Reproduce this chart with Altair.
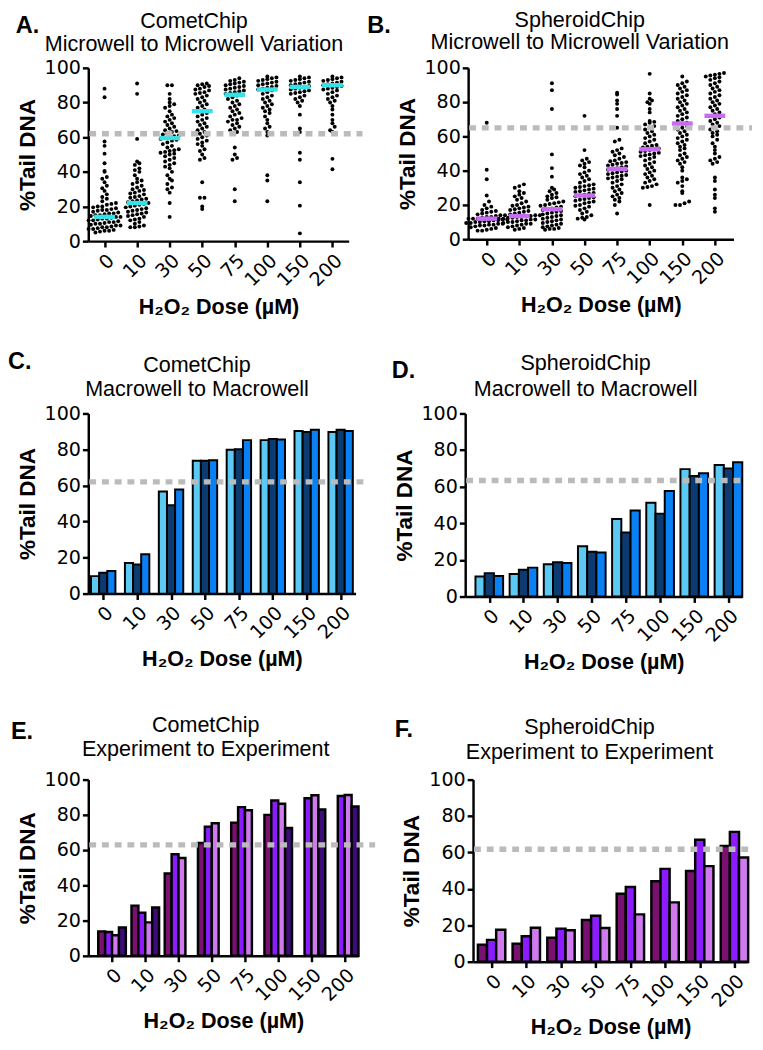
import altair as alt
import pandas as pd

FONT = "Liberation Sans"
TICKFONT = "DejaVu Sans"
doses = ["0", "10", "30", "50", "75", "100", "150", "200"]

# ---------- Panel A: CometChip microwell values (%Tail DNA) ----------
a_0 = [88, 83, 57.5, 55, 50.5, 45, 40.5, 40, 37, 36, 34, 32, 30.5, 29, 27, 25.5, 24.5, 23, 22, 21.5,
       21, 20, 20, 19.5, 19, 18.5, 18, 18, 17.5, 17, 16.5, 16, 16, 15.5, 15, 15, 14.5, 14, 14, 13.5,
       13, 13, 12.5, 12, 12, 11.5, 11, 11, 10.5, 10, 10, 9.5, 9, 9, 8.5, 8, 8, 7.5, 7, 7, 6.5, 6, 6, 5.5, 5]
a_10 = [91, 85, 59, 46, 45, 44, 42, 41, 40, 38, 36, 35, 34, 33, 32, 31, 30, 29.5, 29, 28, 27.5, 27,
        26, 25.5, 25, 24.5, 24, 23.5, 23, 22.5, 22, 21.5, 21, 20.5, 20, 19.5, 19, 18.5, 18, 17.5, 17,
        16.5, 16, 15.5, 15, 14.5, 14, 13, 12.5, 12, 11, 10, 9, 8.5, 8, 8]
a_30 = [90, 90, 85, 82, 80, 79, 78, 77, 75, 73, 72, 71, 70, 69, 68, 67, 66, 65, 64, 63.5, 63, 62,
        61.5, 61, 60.5, 60, 59.5, 59, 58.5, 58, 57, 56, 55, 54, 53, 52.5, 52, 51.5, 51, 50.5, 50, 49,
        48, 47, 46, 45, 44, 43, 42, 40, 38, 36, 35, 33, 31, 30, 28, 22, 14]
a_50 = [91, 90.5, 90, 89.5, 89, 88, 87.5, 87, 86, 85.5, 85, 84, 83, 82, 81, 80, 79, 78, 77, 76, 75,
        74, 73, 72, 71, 70, 69, 68, 67, 66, 65, 64, 63, 62, 61, 60, 59, 58, 57, 56, 55, 53, 52, 50,
        48, 47, 34, 25, 25, 20, 18.5]
a_75 = [94, 93, 92.5, 92, 91.5, 91, 90.5, 90, 89.5, 89, 88.5, 88, 87.5, 87, 86.5, 86, 85.5, 85,
        84.5, 84, 83, 82, 81, 80, 79, 78, 77, 76, 75, 74, 73, 72, 71, 70, 70, 69, 68, 67, 66, 65, 64,
        63, 62, 54, 50, 48, 47, 30, 23]
a_100 = [95, 94.5, 94, 93.5, 93, 92.5, 92, 91.5, 91, 90.5, 90, 89.5, 89, 88.5, 88, 87.5, 87, 86, 85,
         84, 83, 82, 81, 80, 79, 78, 77, 76, 75, 74, 72, 70, 68, 66, 65, 63, 61, 38, 35, 23]
a_150 = [95, 94.5, 94, 93.5, 93, 92.5, 92, 91.5, 91, 90.5, 90, 89.5, 89, 88.5, 88, 87.5, 87, 86.5,
         86, 85.5, 85, 84, 83, 82, 81, 80, 78, 73, 65, 63, 51, 47, 34, 20.5, 4.5]
a_200 = [95, 94.5, 94, 93.5, 93, 92.5, 92, 91.5, 91, 90.5, 90, 89.5, 89, 88.5, 88, 87.5, 87, 86, 85,
         84, 83, 82, 81, 80, 78, 76, 73, 70, 68, 66, 64, 63, 47.5, 41.5]
a_medians = [14, 22, 59.5, 75, 84.5, 87.5, 89, 90]

# ---------- Panel B: SpheroidChip microwell values ----------
b_0 = [68, 40.5, 35, 25.5, 22, 20, 19, 18, 17, 16.5, 16, 15.5, 15, 14.5, 14, 14, 13.5, 13, 13, 12.5,
       12, 12, 12, 11.5, 11.5, 11, 11, 10.5, 10.5, 10, 10, 9.5, 9.5, 9, 9, 8.5, 8.5, 8, 8, 7.5, 7,
       6.5, 6, 5.5, 5, 5]
b_10 = [32, 31, 30, 28, 27, 26, 25, 24, 23, 22, 21, 20, 19.5, 19, 18.5, 18, 17.5, 17, 16.5, 16, 15.5,
        15, 14.5, 14, 14, 13.5, 13.5, 13, 13, 12.5, 12.5, 12, 12, 11.5, 11.5, 11, 11, 10.5, 10, 10,
        9.5, 9, 9, 8.5, 8, 7.5, 7, 6.5, 6, 5.5]
b_30 = [91, 87, 76, 49.5, 41.5, 36.5, 30, 29, 28, 27, 26, 25, 24.5, 24, 23, 22, 21.5, 21, 20.5, 20,
        19.5, 19, 18.5, 18, 17.5, 17, 16.5, 16, 15.5, 15, 14.5, 14, 13.5, 13, 12.5, 12, 11.5, 11,
        10.5, 10, 9.5, 9, 8.5, 8, 7.5, 7, 6.5, 6, 6, 5.5]
b_50 = [72, 52, 47, 46, 45, 44, 43, 42, 40, 39, 38, 37, 36, 35, 34, 33, 32, 31.5, 31, 30.5, 30, 29.5,
        29, 28.5, 28, 27.5, 27, 26.5, 26, 25.5, 25, 24.5, 24, 23.5, 23, 22.5, 22, 21.5, 21, 20, 19.5,
        19, 18, 17, 16, 15, 14, 13, 12.5, 12, 11.5]
b_75 = [85.5, 84.5, 81, 79, 76, 72, 65, 58, 57, 53, 52, 51, 50, 49, 48, 47, 46, 45.5, 45, 44.5, 44,
        43.5, 43, 42.5, 42, 41.5, 41, 40.5, 40, 39.5, 39, 38.5, 38, 37.5, 37, 36.5, 36, 35.5, 35, 34,
        33, 32, 31, 30, 29, 28, 27, 26, 25, 24, 23, 22, 20, 15]
b_100 = [96.5, 85, 82, 81, 80, 79, 76, 74, 69, 68.5, 68, 67, 66, 65, 64, 63, 62, 61, 60, 59, 58, 57,
         56, 55, 54.5, 54, 53.5, 53, 52.5, 52, 51.5, 51, 50.5, 50, 49.5, 49, 48.5, 48, 47, 46, 45, 44,
         43, 42, 41, 40, 39, 38, 37, 36, 35, 34, 33, 32, 31, 30.5, 30, 20]
b_150 = [95, 92, 91, 90, 89, 88, 87, 86, 85, 84, 83, 82, 81, 80, 79, 78, 77, 76, 75, 74, 73, 72, 71,
         70, 69, 68, 67.5, 67, 66, 65, 64, 63, 62, 61, 60, 59, 58, 57, 56, 55, 54, 53, 52, 50, 49, 48,
         47, 46, 45, 44, 42, 40, 36, 35, 34, 33, 31, 28, 27, 22, 21, 20, 20]
b_200 = [97, 96.5, 96, 95.5, 95, 94.5, 94, 93, 92, 91, 90, 89, 88, 87, 86, 85, 84, 83, 82, 81, 80, 79,
         78, 77, 76, 75, 74, 73, 72, 71, 70, 69, 68, 67, 66, 65, 64, 63, 62, 61, 60, 58, 56, 54, 52,
         50, 48, 47, 46, 45, 44, 36, 34, 29, 26, 24, 18, 16]
b_medians = [12, 13.5, 17.5, 25.5, 41, 52.5, 67.5, 72]

# ---------- Panels C/D: macrowell means ----------
macro_series = ["Macrowell 1", "Macrowell 2", "Macrowell 3"]
c_well1 = [9.7, 17.0, 56.7, 73.8, 79.8, 85.2, 90.3, 89.7]
c_well2 = [11.6, 16.2, 49.1, 73.8, 80.1, 85.9, 89.7, 91.0]
c_well3 = [12.6, 21.8, 57.8, 74.0, 85.2, 85.6, 91.0, 90.3]
d_well1 = [11.0, 12.3, 17.6, 27.5, 42.3, 51.2, 69.6, 71.9]
d_well2 = [12.8, 14.6, 18.7, 24.5, 35.0, 45.3, 65.9, 70.0]
d_well3 = [11.2, 15.8, 18.3, 24.0, 47.0, 57.7, 67.3, 73.4]

# ---------- Panels E/F: experiment means ----------
exp_series = ["Experiment 1", "Experiment 2", "Experiment 3", "Experiment 4"]
e_exp1 = [13.9, 28.5, 46.7, 64.0, 75.5, 80.0, None, None]
e_exp2 = [13.5, 24.4, 57.6, 73.3, 84.4, 88.1, 89.4, 90.7]
e_exp3 = [11.7, 19.0, 55.5, 75.2, 82.6, 86.3, 91.1, 91.3]
e_exp4 = [16.1, 27.4, None, None, None, 72.6, 83.0, 84.8]
f_exp1 = [9.3, 9.9, 13.2, 22.9, 37.3, 44.2, 49.8, 63.6]
f_exp2 = [12.0, 14.0, 18.1, 25.2, 41.0, 51.0, 67.0, 71.3]
f_exp3 = [17.6, 18.7, 17.3, 18.5, 26.0, 32.6, 52.5, 57.2]

# threshold lines
ref_a, ref_b, ref_c, ref_d, ref_e, ref_f = 62, 65, 62, 63.4, 63, 61.8

blues = ["#5cc9f5", "#0b3b70", "#0a80f5"]
purples = ["#7a1070", "#8c1cff", "#d07af0", "#3c0c78"]

XTITLE = "H₂O₂ Dose (µM)"
YTITLE = "%Tail DNA"
LABEL_EXPR = "[" + ",".join("'%s'" % d for d in doses) + "][datum.value]"


def swarm_table(groups, bin_w=2.6, step=0.14):
    rows = []
    for gi, vals in enumerate(groups):
        bins = {}
        for v in sorted(vals):
            bins.setdefault(int(round(v / bin_w)), []).append(v)
        for vs in bins.values():
            n = len(vs)
            for i, v in enumerate(vs):
                rows.append({"xpos": gi + (i - (n - 1) / 2) * step, "value": v})
    return pd.DataFrame(rows)


def x_axis():
    return alt.Axis(values=list(range(len(doses))), labelExpr=LABEL_EXPR,
                    labelOverlap=False, labelAngle=-45, labelPadding=4, titlePadding=7)


def y_axis():
    return alt.Axis(values=[0, 20, 40, 60, 80, 100], labelOverlap=False,
                    titlePadding=5, titleFontSize=23)


def x_enc(field, dom):
    return alt.X(field, title=XTITLE, scale=alt.Scale(domain=dom, nice=False, zero=False),
                 axis=x_axis())


def y_enc():
    return alt.Y("value:Q", title=YTITLE, scale=alt.Scale(domain=[0, 100], nice=False),
                 axis=y_axis())


def texts(letter, lx, ly, t1, t2, tx, ty1, ty2):
    # y positions are the top of each text line relative to the plot's top edge
    l = alt.Chart(pd.DataFrame({"t": [letter]})).mark_text(
        font=FONT, fontSize=24, fontWeight="bold", align="left", baseline="top", color="black"
    ).encode(text="t:N", x=alt.value(lx), y=alt.value(ly))
    a = alt.Chart(pd.DataFrame({"t": [t1]})).mark_text(
        font=FONT, fontSize=22, align="center", baseline="top", color="black"
    ).encode(text="t:N", x=alt.value(tx), y=alt.value(ty1))
    b = alt.Chart(pd.DataFrame({"t": [t2]})).mark_text(
        font=FONT, fontSize=22, align="center", baseline="top", color="black"
    ).encode(text="t:N", x=alt.value(tx), y=alt.value(ty2))
    return [l, a, b]


def ref_rule(v, x2):
    return alt.Chart(pd.DataFrame({"value": [v]})).mark_rule(
        strokeDash=[7, 6], strokeWidth=5.5, color="#bbbbbb"
    ).encode(y=y_enc(), x=alt.value(1), x2=alt.value(x2))


def scatter_panel(groups, medians, color, W, H, dom, ref, dash_end, txt):
    pts = swarm_table(groups)
    med = pd.DataFrame({"x1": [i - 0.32 for i in range(len(doses))],
                        "x2": [i + 0.32 for i in range(len(doses))],
                        "value": medians})
    dots = alt.Chart(pts).mark_circle(size=16, color="black", opacity=1).encode(
        x=x_enc("xpos:Q", dom), y=y_enc())
    meds = alt.Chart(med).mark_rule(strokeWidth=4.5, color=color).encode(
        x=x_enc("x1:Q", dom), x2="x2:Q", y=y_enc())
    return alt.layer(dots, meds, ref_rule(ref, dash_end), *txt).properties(width=W, height=H)


def bar_panel(key, series, cols, colors, W, H, dom, group_w, ref, dash_end, txt, sw=2):
    n = len(series)
    slot = group_w / n
    sfield = key + "_series"
    rows = []
    for k, (s, vals) in enumerate(zip(series, cols)):
        for i, v in enumerate(vals):
            if v is not None:
                x1 = i - group_w / 2 + k * slot
                rows.append({"x1": x1, "x2": x1 + slot, sfield: s, "value": v})
    df = pd.DataFrame(rows)
    bars = alt.Chart(df).mark_bar(stroke="black", strokeWidth=sw).encode(
        x=x_enc("x1:Q", dom), x2="x2:Q",
        y=y_enc(), y2=alt.datum(0),
        color=alt.Color(sfield + ":N", scale=alt.Scale(domain=series, range=colors), legend=None),
    )
    return alt.layer(bars, ref_rule(ref, dash_end), *txt).properties(width=W, height=H)


A = scatter_panel([a_0, a_10, a_30, a_50, a_75, a_100, a_150, a_200], a_medians, "#33e3e8",
                  266, 177, [-0.5, 7.5], ref_a, 280,
                  texts("A.", -74, -55, "CometChip", "Microwell to Microwell Variation", 108, -58, -34))
B = scatter_panel([b_0, b_10, b_30, b_50, b_75, b_100, b_150, b_200], b_medians, "#c86cf2",
                  271, 175, [-0.57, 7.57], ref_b, 290,
                  texts("B.", -103, -55, "SpheroidChip", "Microwell to Microwell Variation", 114, -59, -36))
C = bar_panel("c", macro_series, [c_well1, c_well2, c_well3], blues, 273, 184, [-0.44, 7.44], 0.72,
              ref_c, 287,
              texts("C.", -82, -64, "CometChip", "Macrowell to Macrowell", 111, -59, -35))
D = bar_panel("d", macro_series, [d_well1, d_well2, d_well3], blues, 283, 187, [-0.705, 7.405], 0.81,
              ref_d, 285,
              texts("D.", -75, -55, "SpheroidChip", "Macrowell to Macrowell", 123, -61, -35))
E = bar_panel("e", exp_series, [e_exp1, e_exp2, e_exp3, e_exp4], purples, 276, 180,
              [-0.715, 7.415], 0.83, ref_e, 293,
              texts("E.", -79, -61, "CometChip", "Experiment to Experiment", 120, -66, -41), sw=2.5)
F = bar_panel("f", exp_series[:3], [f_exp1, f_exp2, f_exp3], purples[:3], 281, 186,
              [-0.535, 7.395], 0.79, ref_f, 281,
              texts("F.", -80, -63, "SpheroidChip", "Experiment to Experiment", 119, -64, -38), sw=2.5)

row1 = alt.hconcat(A, B, spacing=2).resolve_scale(color="independent")
row2 = alt.hconcat(C, D, spacing=20).resolve_scale(color="independent")
row3 = alt.hconcat(E, F, spacing=17).resolve_scale(color="independent")

top = alt.vconcat(row1, row2, spacing=34).resolve_scale(color="independent")
chart = alt.vconcat(top, row3, spacing=42).resolve_scale(color="independent").properties(
    padding={"left": 0, "top": -10, "right": 0, "bottom": 0}
).configure_view(stroke=None).configure_axis(
    grid=False, domainColor="black", domainWidth=2.5, tickColor="black", tickWidth=2.5,
    tickSize=6, labelFont=TICKFONT, labelFontSize=19.5, labelColor="black", labelPadding=2,
    titleFont=FONT, titleFontSize=22, titleFontWeight="bold", titleColor="black"
)

chart.save("out.html", embed_options={"renderer": "svg", "actions": False})
